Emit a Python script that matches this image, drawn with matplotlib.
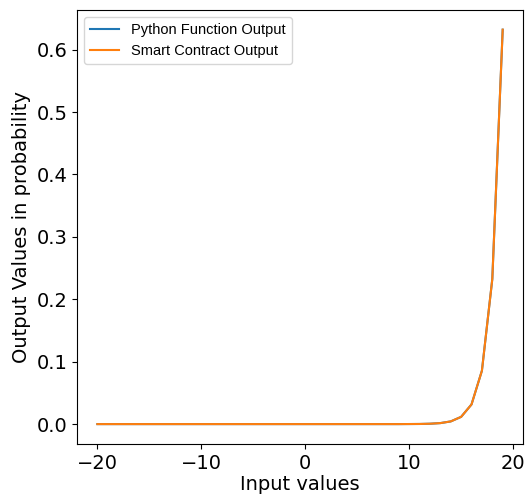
import matplotlib.pyplot as plt

plt.rcParams["font.size"] = 14

inputs = list(range(-20, 20))
python_output = [0.0] * 30 + [0.0001, 0.0002, 0.0006, 0.0016, 0.0043,
                              0.0116, 0.0315, 0.0855, 0.2325, 0.632]
contract_output = [0.0] * 30 + [0.0001, 0.0002, 0.0006, 0.0016, 0.0043,
                                0.0116, 0.0315, 0.0855, 0.2325, 0.632]

fig = plt.figure(figsize=(5.32, 4.97), dpi=100)
ax = fig.add_axes([0.145, 0.107, 0.838, 0.873])

ax.plot(inputs, python_output, color="#1f77b4", label="Python Function Output")
ax.plot(inputs, contract_output, color="#ff7f0e", label="Smart Contract Output")

ax.set_xlabel("Input values", labelpad=2)
ax.set_ylabel("Output Values in probability")
ax.set_xticks([-20, -10, 0, 10, 20])
ax.set_yticks([0.0, 0.1, 0.2, 0.3, 0.4, 0.5, 0.6])
ax.legend(loc="upper left", prop={"family": "Liberation Sans", "size": 10.5})

fig.savefig("out.png", dpi=100)
